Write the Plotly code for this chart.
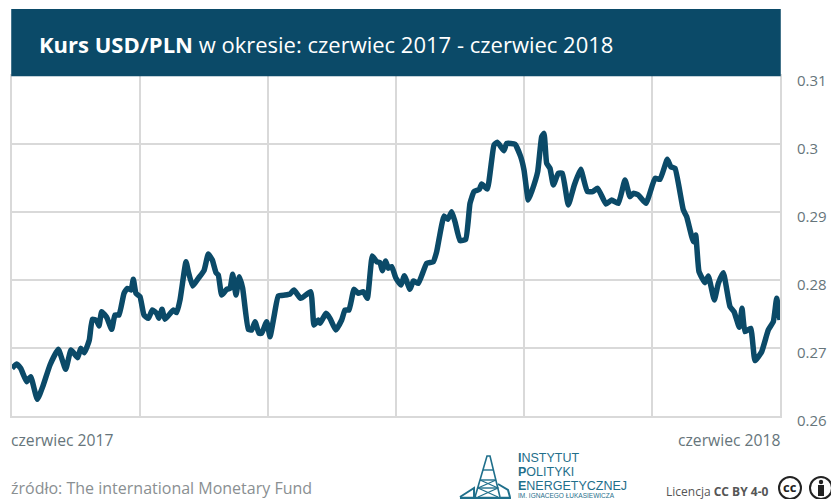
import plotly.graph_objects as go

# USD/PLN fixing: session index (0-192) and rate
sessions = [0, 1.17, 2.17, 3.67, 4.67, 6.33, 7.83, 9.5, 11.58, 13.42, 14.75, 16.42, 17.17, 18.08, 19.33, 20.08,
            21.17, 21.75, 22.42, 23.67, 24.92, 25.75, 26.75, 28, 28.83, 29.75, 30.33, 31, 32, 33, 34.08, 35.08,
            36.17, 36.75, 37.5, 38.25, 40.33, 41.17, 42, 43.5, 44.08, 45.17, 46.58, 48, 49.08, 50.08, 51, 51.58,
            52.42, 53.67, 54.5, 55.17, 56, 56.83, 57.67, 59.08, 59.92, 60.75, 61.75, 62.42, 63.67, 64.5, 65.5,
            66.58, 68.25, 69.5, 70.5, 72.17, 74.67, 75.5, 76.58, 77, 78.5, 79.5, 80.92, 82.42, 83.25, 84.25, 85.5,
            86.58, 87.83, 88.83, 90.08, 91.17, 92, 92.58, 93.42, 94.08, 94.92, 96, 97.25, 98.08, 99.5, 100.33,
            101.58, 103.67, 105.33, 106.17, 108, 108.92, 109.92, 110.75, 112, 113.42, 114.5, 115.5, 116.83,
            117.42, 118.83, 120.5, 121.33, 123, 123.67, 125.75, 127.17, 128, 129.08, 129.92, 131.42, 132.42, 133,
            133.67, 134.5, 135.33, 136.58, 137.58, 139.08, 140.58, 142.17, 143.83, 145.17, 146.42, 148.5, 149.92,
            151.58, 153.25, 154.5, 155.33, 156.58, 158.5, 160.75, 162, 163.83, 164.67, 165.75, 167.83, 168.67,
            170.33, 170.92, 171.75, 173.25, 174.08, 175.58, 176.58, 177.83, 179.5, 180.5, 181.83, 182.5, 183.25,
            184.67, 185.75, 187.42, 189.08, 190.33, 191.17, 192]
rates = [.26701, .26765, .26701, .26505, .26578, .26245, .26456, .2675, .2698, .26686, .26971, .26858, .26995,
         .26931, .27118, .27422, .27402, .27324, .27534, .27451, .27275, .27485, .27485, .27804, .27877, .27853,
         .2801, .27804, .27755, .27485, .27436, .27559, .2751, .27436, .27569, .27422, .27559, .2752, .27706,
         .2827, .28123, .27912, .28025, .28137, .28382, .28294, .28108, .28074, .27779, .27863, .27877, .28083,
         .27779, .28049, .27877, .27275, .27265, .27387, .27216, .27216, .27387, .27167, .27461, .27765, .27779,
         .27794, .27853, .2773, .27828, .27338, .27412, .27363, .2751, .27436, .27265, .27412, .27559, .27559,
         .27863, .27804, .27828, .2773, .28353, .2827, .28255, .28137, .28279, .28172, .28196, .28025, .27926,
         .28064, .27863, .27985, .27951, .28245, .2827, .28417, .28941, .28892, .29005, .28858, .28578, .28598,
         .29127, .2930, .29333, .29412, .29338, .29985, .30025, .29902, .3001, .29995, .29814, .29618, .29176,
         .2930, .29593, .30108, .30157, .29716, .29642, .29397, .29569, .29569, .29103, .29397, .29627, .2930,
         .2930, .29348, .29118, .29176, .29127, .29471, .29225, .29275, .2925, .29127, .29495, .2948, .29775,
         .29667, .29642, .2903, .28931, .28564, .28662, .28123, .27961, .28059, .27706, .27951, .28108, .27608,
         .27534, .27304, .27583, .2724, .27289, .26814, .26946, .27265, .27387, .2773, .27412]

x_grid = [0, 32, 64, 96, 128, 160, 192]
y_ticks = [0.26, 0.27, 0.28, 0.29, 0.3, 0.31]
y_labels = ["0.26", "0.27", "0.28", "0.29", "0.3", "0.31"]

NAVY = "#0b4a68"
TEAL = "#1f6f8b"
GREY = "#66757b"
GRID = "#d9d9d9"

W, H = 831, 499
L, R, T, B = 12, 780, 76, 416
PAD = 3  # inner padding plotly adds around an annotation


def px(x):
    return (x - L) / (R - L)


def py(y):
    return (B - y) / (B - T)


def path(points, close=False):
    d = "M " + " L ".join(f"{px(a):.4f},{py(b):.4f}" for a, b in points)
    return d + (" Z" if close else "")


def stroke(points, width=1.5, color=TEAL):
    return dict(type="path", xref="paper", yref="paper", path=path(points),
                line=dict(color=color, width=width))


def circle(cx, cy, r, **kw):
    return dict(type="circle", xref="paper", yref="paper",
                x0=px(cx - r), x1=px(cx + r), y0=py(cy + r), y1=py(cy - r), **kw)


def label(x, y, text, size, color=GREY, anchor="left", family="Open Sans"):
    shift = {"left": -PAD, "right": PAD, "center": 0}[anchor]
    return dict(xref="paper", yref="paper", x=px(x + shift), y=py(y), text=text, showarrow=False,
                xanchor=anchor, yanchor="middle", align=anchor,
                font=dict(family=family, size=size, color=color))


fig = go.Figure(go.Scatter(x=sessions, y=rates, mode="lines",
                           line=dict(color=NAVY, width=5.5, shape="spline", smoothing=0.4),
                           hoverinfo="skip", cliponaxis=False))

shapes = [
    # header band
    dict(type="rect", xref="paper", yref="paper", x0=-0.001, x1=1.001, y0=0.999, y1=py(9), layer="above",
         fillcolor=NAVY, line=dict(width=0)),
    # derrick emblem
    stroke([(475, 497), (487, 456), (490, 456), (500, 497)], 1.6),
    stroke([(480, 480), (496, 480)], 1.4),
    stroke([(483, 470), (493, 470)], 1.4),
    stroke([(478, 488), (498, 488)], 1.4),
    stroke([(480, 480), (498, 488), (478, 497)], 1.2),
    stroke([(496, 480), (478, 488), (498, 497)], 1.2),
    stroke([(460, 497), (474, 488), (474, 497)], 2),
    stroke([(498, 484), (508, 490), (510, 497)], 2),
    stroke([(460, 498), (511, 498)], 2.5),
    # licence badges
    circle(790, 488, 11, line=dict(color="#222222", width=2), fillcolor="white"),
    circle(821, 488, 11, line=dict(color="#222222", width=2), fillcolor="white"),
    circle(821, 482, 2.2, line=dict(width=0), fillcolor="#222222"),
    dict(type="rect", xref="paper", yref="paper", x0=px(818), x1=px(824), y0=py(496), y1=py(485),
         line=dict(width=0), fillcolor="#222222"),
]

annotations = [
    label(40, 44, "<b>Kurs USD/PLN</b> w okresie: czerwiec 2017 - czerwiec 2018", 22, "white"),
    label(12, 440, "czerwiec 2017", 15.7),
    label(780, 440, "czerwiec 2018", 15.7, anchor="right"),
    label(12, 488.5, "źródło: The international Monetary Fund", 16, "#8a8f92"),
    label(519, 458, "<b>I</b>NSTYTUT", 12.5, TEAL, family="Liberation Sans"),
    label(519, 472, "<b>P</b>OLITYKI", 12.5, TEAL, family="Liberation Sans"),
    label(519, 486, "<b>E</b>NERGETYCZNEJ", 12.5, TEAL, family="Liberation Sans"),
    label(519, 495, "IM. IGNACEGO ŁUKASIEWICZA", 6.5, TEAL, family="Liberation Sans"),
    label(768, 491, "Licencja <b>CC BY 4-0</b>", 12, "#555555", anchor="right"),
    label(790, 487, "<b>cc</b>", 13, "#222222", anchor="center"),
]
# value labels sit just under their grid lines, to the right of the plot
for tick, text in zip(y_ticks, y_labels):
    annotations.append(dict(xref="paper", yref="y", x=px(797.5 - PAD), y=tick, text=text, showarrow=False,
                            xanchor="left", yanchor="middle", yshift=-4,
                            font=dict(family="Open Sans", size=15, color=GREY)))

# the frame lines close the grid on the left, right and bottom
frame = dict(showline=True, mirror=True, linecolor=GRID, linewidth=1.5, layer="below traces")

fig.update_layout(
    width=W, height=H, autosize=False,
    margin=dict(l=L, r=W - R, t=T, b=H - B, pad=0),
    paper_bgcolor="white", plot_bgcolor="white",
    showlegend=False, shapes=shapes, annotations=annotations,
    xaxis=dict(range=[0, 192], tickmode="array", tickvals=x_grid, showticklabels=False, ticks="",
               showgrid=True, gridcolor=GRID, gridwidth=1.5, zeroline=False, **frame),
    yaxis=dict(range=[0.26, 0.31], tickmode="array", tickvals=y_ticks, showticklabels=False, ticks="",
               showgrid=True, gridcolor=GRID, gridwidth=1.5, zeroline=False, **frame),
)

fig.write_html("out.html", config=dict(displayModeBar=False))
